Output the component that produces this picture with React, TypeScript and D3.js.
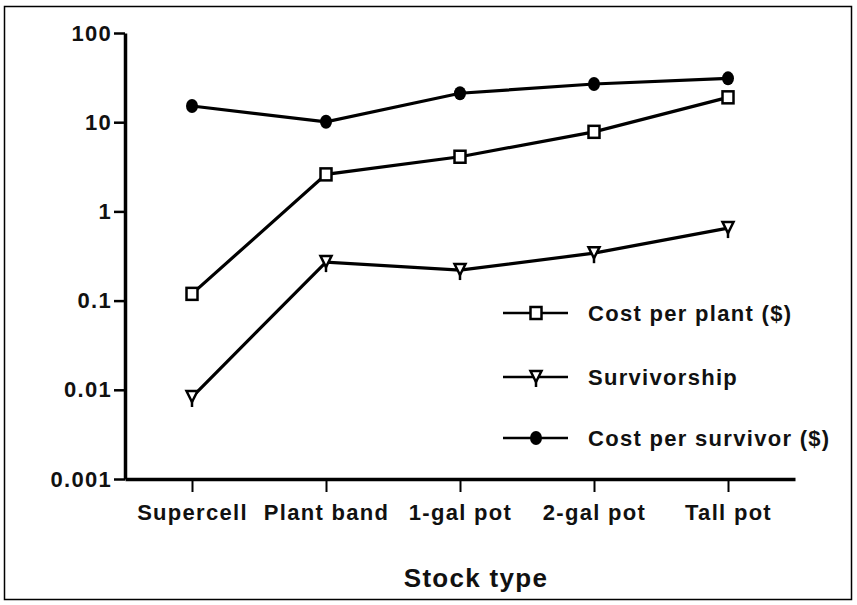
import { FC, useRef, useEffect } from 'react'
import * as d3 from 'd3'

const stockTypes = ['Supercell', 'Plant band', '1-gal pot', '2-gal pot', 'Tall pot']
const costPerPlant = [0.119, 2.6, 4.1, 7.8, 19.0]
const survivorship = [0.0083, 0.27, 0.22, 0.34, 0.65]
const costPerSurvivor = [15.2, 10.1, 21.1, 26.8, 31.0]
const yTickValues = [100, 10, 1, 0.1, 0.01, 0.001]
const yTickLabels = ['100', '10', '1', '0.1', '0.01', '0.001']

type Marker = 'square' | 'triangle' | 'dot'

const seriesList: { name: string; values: number[]; marker: Marker }[] = [
  { name: 'Cost per plant ($)', values: costPerPlant, marker: 'square' },
  { name: 'Survivorship', values: survivorship, marker: 'triangle' },
  { name: 'Cost per survivor ($)', values: costPerSurvivor, marker: 'dot' },
]

const FONT = '"Liberation Sans", Arial, Helvetica, sans-serif'

const drawMarker = (
  g: d3.Selection<SVGGElement, unknown, null, undefined>,
  kind: Marker,
  cx: number,
  cy: number
) => {
  if (kind === 'square') {
    g.append('rect')
      .attr('x', cx - 5.5)
      .attr('y', cy - 6)
      .attr('width', 11)
      .attr('height', 12)
      .attr('fill', '#fff')
      .attr('stroke', '#000')
      .attr('stroke-width', 2.5)
  } else if (kind === 'triangle') {
    g.append('path')
      .attr('d', `M${cx - 5.5},${cy - 6} L${cx + 5.5},${cy - 6} L${cx},${cy + 5} Z`)
      .attr('fill', '#fff')
      .attr('stroke', '#000')
      .attr('stroke-width', 2.5)
    g.append('line')
      .attr('x1', cx).attr('x2', cx)
      .attr('y1', cy + 3).attr('y2', cy + 10)
      .attr('stroke', '#000')
      .attr('stroke-width', 2.5)
  } else {
    g.append('ellipse')
      .attr('cx', cx)
      .attr('cy', cy)
      .attr('rx', 6)
      .attr('ry', 7)
      .attr('fill', '#000')
  }
}

const styleText = (sel: d3.Selection<any, any, any, any>, size: number) =>
  sel
    .attr('font-family', FONT)
    .attr('font-weight', 'bold')
    .attr('font-size', `${size}px`)
    .attr('letter-spacing', '1.3px')
    .attr('fill', '#111')

const StockChart: FC = () => {
  const svgRef = useRef<SVGSVGElement>(null)

  useEffect(() => {
    if (!svgRef.current) return
    const svg = d3.select(svgRef.current)
    svg.selectAll('*').remove()

    const width = 857
    const height = 605
    svg.attr('width', width).attr('height', height)

    // outer frame
    svg.append('rect')
      .attr('x', 4.5).attr('y', 6.5)
      .attr('width', 847).attr('height', 593)
      .attr('fill', '#fff')
      .attr('stroke', '#000')
      .attr('stroke-width', 1.5)

    const xScale = d3.scalePoint<string>()
      .domain(stockTypes)
      .range([125, 795])
      .padding(0.5)

    const yScale = d3.scaleLog()
      .domain([0.001, 100])
      .range([479, 33])

    // y axis
    const yAxis = svg.append('g')
      .attr('transform', 'translate(125,0)')
      .call(
        d3.axisLeft(yScale)
          .tickValues(yTickValues)
          .tickFormat((_, i) => yTickLabels[i])
          .tickSize(11)
          .tickSizeOuter(0)
          .tickPadding(2)
      )
    yAxis.select('.domain').attr('stroke-width', 3.5)
    yAxis.selectAll('.tick line').attr('stroke-width', 2.5)
    styleText(yAxis.selectAll('.tick text'), 22)

    // x axis
    const xAxis = svg.append('g')
      .attr('transform', 'translate(0,479)')
      .call(
        d3.axisBottom(xScale)
          .tickSize(13)
          .tickSizeOuter(0)
          .tickPadding(12)
      )
    xAxis.select('.domain').attr('stroke-width', 3.5)
    xAxis.selectAll('.tick line').attr('stroke-width', 2)
    styleText(xAxis.selectAll('.tick text'), 22)

    styleText(
      svg.append('text')
        .attr('x', 476)
        .attr('y', 587)
        .attr('text-anchor', 'middle'),
      26
    ).text('Stock type')

    const line = d3.line<number>()
      .x((_, i) => xScale(stockTypes[i]) || 0)
      .y(d => yScale(d))

    seriesList.forEach(s => {
      svg.append('path')
        .datum(s.values)
        .attr('d', line)
        .attr('fill', 'none')
        .attr('stroke', '#000')
        .attr('stroke-width', 3.2)
      const mg = svg.append('g')
      s.values.forEach((v, i) => {
        drawMarker(mg, s.marker, xScale(stockTypes[i]) || 0, yScale(v))
      })
    })

    // legend
    const legendRows = [313, 377, 438]
    seriesList.forEach((s, i) => {
      const ly = legendRows[i]
      const lg = svg.append('g')
      lg.append('line')
        .attr('x1', 503).attr('x2', 568)
        .attr('y1', ly).attr('y2', ly)
        .attr('stroke', '#000')
        .attr('stroke-width', 2.5)
      drawMarker(lg, s.marker, 536, ly)
      styleText(
        lg.append('text')
          .attr('x', 588)
          .attr('y', ly)
          .attr('dy', '0.35em'),
        22
      ).text(s.name)
    })
  }, [])

  return <svg ref={svgRef} style={{ position: 'absolute', left: 0, top: 0 }} />
}

export default function App() {
  return <StockChart />
}
